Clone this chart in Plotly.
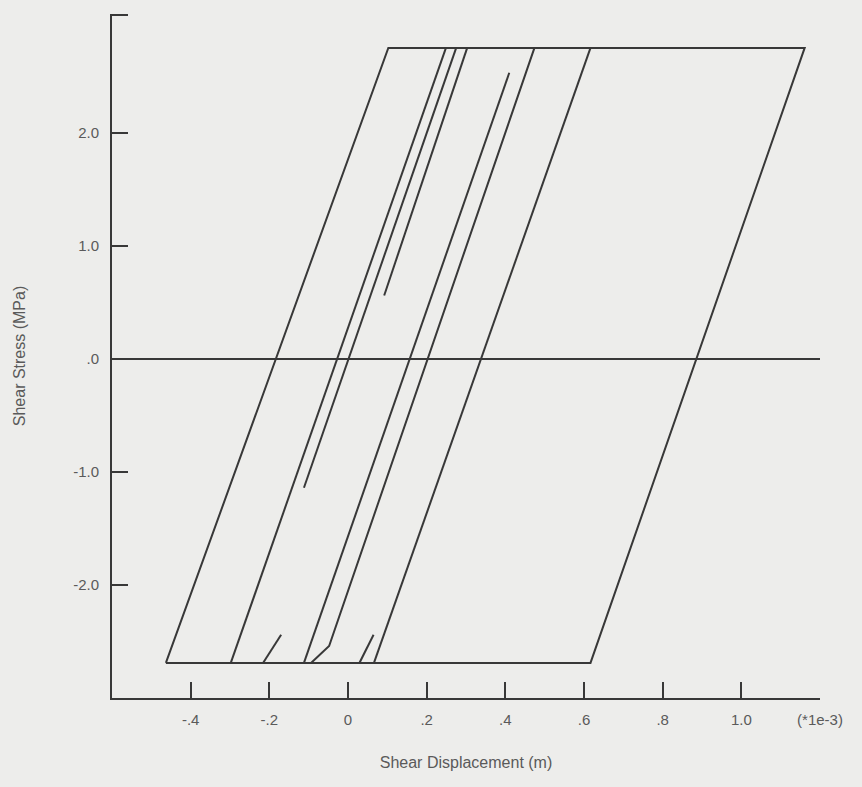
import plotly.graph_objects as go

# Shear displacement in units of 1e-3 m, shear stress in MPa
outer_x = [-0.463, 0.1025, 1.161, 0.6165, -0.463]
outer_y = [-2.69, 2.75, 2.75, -2.69, -2.69]
branch_b_x = [-0.298, 0.249]
branch_b_y = [-2.69, 2.75]
branch_c_x = [0.275, -0.112]
branch_c_y = [2.75, -1.14]
branch_h_x = [0.303, 0.092]
branch_h_y = [2.75, 0.56]
branch_d_x = [-0.112, 0.410]
branch_d_y = [-2.69, 2.53]
branch_e_x = [0.474, -0.048, -0.094]
branch_e_y = [2.75, -2.54, -2.69]
branch_f_x = [0.6165, 0.066]
branch_f_y = [2.75, -2.69]
short1_x = [-0.216, -0.170]
short1_y = [-2.69, -2.44]
short2_x = [0.029, 0.065]
short2_y = [-2.69, -2.44]

x_tickvals = [-0.4, -0.2, 0, 0.2, 0.4, 0.6, 0.8, 1.0, 1.2]
x_ticktext = ["-.4", "-.2", "0", ".2", ".4", ".6", ".8", "1.0", "(*1e-3)"]
y_tickvals = [-2, -1, 0, 1, 2, 3.04]
y_ticktext = ["-2.0", "-1.0", ".0", "1.0", "2.0", ""]

LINE = "#383838"
TEXT = "#5a5a5a"

fig = go.Figure()
series = [
    (outer_x, outer_y), (branch_b_x, branch_b_y), (branch_c_x, branch_c_y),
    (branch_h_x, branch_h_y), (branch_d_x, branch_d_y), (branch_e_x, branch_e_y),
    (branch_f_x, branch_f_y), (short1_x, short1_y), (short2_x, short2_y),
]
for xs, ys in series:
    fig.add_trace(go.Scatter(x=xs, y=ys, mode="lines",
                             line=dict(color=LINE, width=2), showlegend=False,
                             hoverinfo="skip"))

fig.update_layout(
    width=862, height=787,
    margin=dict(l=112, r=42, t=14, b=89),
    paper_bgcolor="#ededeb", plot_bgcolor="#ededeb",
    font=dict(family="Liberation Sans, Arial, sans-serif", size=15, color=TEXT),
    showlegend=False,
)
fig.update_xaxes(
    range=[-0.6, 1.2], showgrid=False, zeroline=False,
    showline=True, linecolor=LINE, linewidth=2,
    ticks="inside", ticklen=16, tickwidth=2, tickcolor=LINE,
    tickvals=x_tickvals, ticktext=x_ticktext, ticklabelstandoff=7,
    title=dict(text="Shear Displacement (m)", font=dict(size=16, color=TEXT), standoff=30),
)
fig.update_yaxes(
    range=[-3.0, 3.05], showgrid=False,
    zeroline=True, zerolinecolor=LINE, zerolinewidth=2,
    showline=True, linecolor=LINE, linewidth=2,
    ticks="inside", ticklen=16, tickwidth=2, tickcolor=LINE,
    tickvals=y_tickvals, ticktext=y_ticktext, ticklabelstandoff=8,
    title=dict(text="Shear Stress (MPa)", font=dict(size=16, color=TEXT), standoff=44),
)

fig.write_html("out.html")
